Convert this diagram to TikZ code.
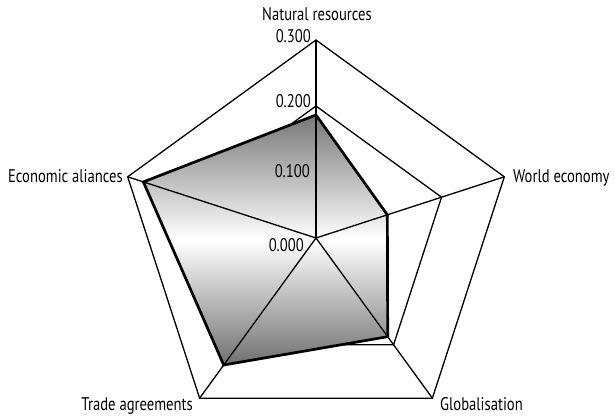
\documentclass[tikz,border=0pt]{standalone}
\usepackage{fontspec}
\setmainfont[FakeStretch=0.8]{PT Sans}
\begin{document}
\begin{tikzpicture}[x=1pt,y=1pt,
  gridline/.style={line width=1.3pt, line join=miter, black},
  dataline/.style={line width=2.7pt, line join=miter, black},
  datafill/.style={top color=black!53, bottom color=black!56, middle color=white},
  lbl/.style={inner sep=0pt, font=\fontsize{18.3}{21}\selectfont}
]
\useasboundingbox (-316,-179) rectangle (299,238);
\coordinate (O) at (0,0);
% spokes at 0.100, 0.200 and 0.300
\foreach \a/\n in {90/nr,18/we,-54/gl,-126/ta,162/ea} {
  \coordinate (\n1) at (\a:66);
  \coordinate (\n2) at (\a:132);
  \coordinate (\n3) at (\a:198);
}
% grid pentagons
\foreach \k in {1,2,3}
  \draw[gridline] (nr\k) -- (we\k) -- (gl\k) -- (ta\k) -- (ea\k) -- cycle;
% data values
\coordinate (dnr) at (90:123);
\coordinate (dwe) at (18:75);
\coordinate (dgl) at (-54:122);
\coordinate (dta) at (-126:157);
\coordinate (dea) at (162:181.5);
\shade[datafill] (dnr) -- (dwe) -- (dgl) -- (dta) -- (dea) -- cycle;
% axes
\foreach \n in {nr,we,gl,ta,ea}
  \draw[gridline] (O) -- (\n3);
\draw[dataline] (dnr) -- (dwe) -- (dgl) -- (dta) -- (dea) -- cycle;
% scale labels
\node[lbl, anchor=base east] (v3) at (-5,195) {0.300};
\node[lbl, anchor=base east] (v2) at (-5,130) {0.200};
\node[lbl, anchor=base east] (v1) at (-6,60) {0.100};
\node[lbl, anchor=base east] (v0) at (-12,-14) {0.000};
% category labels
\node[lbl, anchor=base] (lnr) at (1,217) {Natural resources};
\node[lbl, anchor=base west] (lwe) at (197,55) {World economy};
\node[lbl, anchor=base west] (lgl) at (124,-172) {Globalisation};
\node[lbl, anchor=base east] (lta) at (-123,-172) {Trade agreements};
\node[lbl, anchor=base east] (lea) at (-193,55) {Economic aliances};
\end{tikzpicture}
\end{document}
